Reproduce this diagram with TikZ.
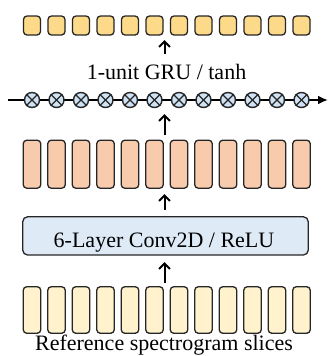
\documentclass[tikz,border=0pt]{standalone}
\usepackage{fontspec}
\setmainfont{Liberation Serif}
\usetikzlibrary{arrows.meta}
\definecolor{topfill}{HTML}{FDDA8A}
\definecolor{orfill}{HTML}{F8CBAD}
\definecolor{botfill}{HTML}{FFF2CC}
\definecolor{convfill}{HTML}{DEEBF7}
\definecolor{circfill}{HTML}{D0E3F5}
\definecolor{edge}{HTML}{262626}
\tikzset{
  cell/.style={draw=edge, line width=1.3bp, rounded corners=3.5bp, inner sep=0pt},
  topcell/.style={cell, fill=topfill, minimum width=17bp, minimum height=19bp},
  orcell/.style={cell, fill=orfill, minimum width=17.5bp, minimum height=48bp},
  botcell/.style={cell, fill=botfill, minimum width=17.5bp, minimum height=46.5bp},
  gate/.style={circle, draw=edge, line width=1.4bp, fill=circfill, minimum size=15bp, inner sep=0pt},
  uparrow/.style={line width=2bp, -{Straight Barb[length=5.5bp,width=11bp,line width=2bp]}},
  lbl/.style={font=\fontsize{22bp}{26bp}\selectfont, inner sep=0pt, anchor=base}
}
\begin{document}
\begin{tikzpicture}[x=1bp,y=-1bp]
\useasboundingbox (0,0) rectangle (329,356);
% horizontal GRU line
\coordinate (lineL) at (8,100);
\coordinate (lineR) at (328,100);
\draw[line width=2bp, -{Latex[length=10bp,width=9bp]}] (lineL) -- (lineR);
\foreach \i in {1,...,12} {
  \pgfmathsetmacro{\xx}{32+(\i-1)*24.5}
  \node[topcell] (t\i) at (\xx,25.5) {};
  \node[gate] (g\i) at (\xx,100) {};
  \draw[edge, line width=1.3bp] (g\i.north east) -- (g\i.south west);
  \draw[edge, line width=1.3bp] (g\i.north west) -- (g\i.south east);
  \node[orcell] (o\i) at (\xx,164.2) {};
  \node[botcell] (b\i) at (\xx,310) {};
}
\node[draw=edge, line width=1.3bp, rounded corners=5bp, fill=convfill,
      minimum width=285.6bp, minimum height=38.3bp, inner sep=0pt] (conv) at (165.5,235.9) {};
\node[lbl] (grulbl) at (166.5,79.5) {1-unit GRU / tanh};
\node[lbl] (convlbl) at (164,247) {6-Layer Conv2D / ReLU};
\node[lbl] (botlbl) at (164,350.5) {Reference spectrogram slices};
% arrows
\coordinate (a1s) at (164.5,54);  \coordinate (a1e) at (164.5,40);
\coordinate (a2s) at (164.5,135); \coordinate (a2e) at (164.5,114);
\coordinate (a3s) at (164.5,210); \coordinate (a3e) at (164.5,194);
\coordinate (a4s) at (164.5,283); \coordinate (a4e) at (164.5,262);
\draw[uparrow] (a1s) -- (a1e);
\draw[uparrow] (a2s) -- (a2e);
\draw[uparrow] (a3s) -- (a3e);
\draw[uparrow] (a4s) -- (a4e);
\end{tikzpicture}
\end{document}
